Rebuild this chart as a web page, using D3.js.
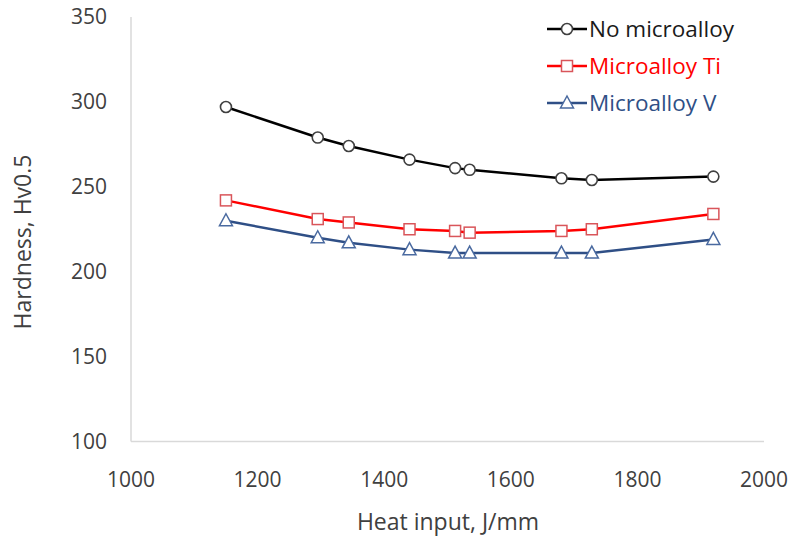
<!DOCTYPE html>
<html>
<head>
<meta charset="utf-8">
<script src="https://cdn.jsdelivr.net/npm/d3@7"></script>
<style>
  body { margin: 0; background: #fff; }
  text { font-family: "Open Sans", sans-serif; fill: #404040; }
</style>
</head>
<body>
<svg width="795" height="540"></svg>
<script>
  // heat input (J/mm)
  var heatInput = [1150, 1295, 1344, 1440, 1512, 1535, 1680, 1728, 1920];
  var noMicro = [297, 279, 274, 266, 261, 260, 255, 254, 256];
  var microTi = [242, 231, 229, 225, 224, 223, 224, 225, 234];
  var microV = [230, 220, 217, 213, 211, 211, 211, 211, 219];
  var xTicks = [1000, 1200, 1400, 1600, 1800, 2000];
  var yTicks = [100, 150, 200, 250, 300, 350];

  var series = [
    { name: "No microalloy", values: noMicro, line: "#000000", mark: "#404040", shape: "circle", text: "#1a1a1a" },
    { name: "Microalloy Ti", values: microTi, line: "#ff0000", mark: "#d9555a", shape: "square", text: "#ff0000" },
    { name: "Microalloy V", values: microV, line: "#2f4f86", mark: "#4a6aa0", shape: "triangle", text: "#2f4f86" }
  ];

  var svg = d3.select("svg");
  var x = d3.scaleLinear().domain([1000, 2000]).range([131, 764]);
  var y = d3.scaleLinear().domain([100, 350]).range([441.5, 17]);

  // axis lines
  svg.append("line").attr("x1", 131).attr("x2", 131).attr("y1", y(350)).attr("y2", y(100))
    .attr("stroke", "#d9d9d9").attr("stroke-width", 1.5);
  svg.append("line").attr("x1", 131).attr("x2", x(2000)).attr("y1", y(100)).attr("y2", y(100))
    .attr("stroke", "#d9d9d9").attr("stroke-width", 1.5);

  svg.selectAll(".ylab").data(yTicks).enter().append("text")
    .attr("x", 107).attr("y", function(d) { return y(d); })
    .attr("dy", "0.35em").attr("text-anchor", "end")
    .style("font-size", "21px").text(function(d) { return d; });

  svg.selectAll(".xlab").data(xTicks).enter().append("text")
    .attr("x", function(d) { return x(d); }).attr("y", 480)
    .attr("dy", "0.35em").attr("text-anchor", "middle")
    .style("font-size", "21px").text(function(d) { return d; });

  svg.append("text").attr("x", 448).attr("y", 522).attr("dy", "0.35em")
    .attr("text-anchor", "middle").style("font-size", "23px").text("Heat input, J/mm");

  svg.append("text").attr("transform", "translate(23,242) rotate(-90)").attr("dy", "0.35em")
    .attr("text-anchor", "middle").style("font-size", "23px").text("Hardness, Hv0.5");

  var line = d3.line()
    .x(function(d, i) { return x(heatInput[i]); })
    .y(function(d) { return y(d); });

  function marker(g, s, cx, cy) {
    if (s.shape == "circle") {
      g.append("circle").attr("cx", cx).attr("cy", cy).attr("r", 5.5)
        .attr("fill", "#fff").attr("stroke", s.mark).attr("stroke-width", 1.6);
    } else if (s.shape == "square") {
      g.append("rect").attr("x", cx - 5.5).attr("y", cy - 5.5).attr("width", 11).attr("height", 11)
        .attr("fill", "#fff").attr("stroke", s.mark).attr("stroke-width", 1.5);
    } else {
      g.append("path").attr("d", "M" + cx + "," + (cy - 7) + "L" + (cx + 6.5) + "," + (cy + 5) + "L" + (cx - 6.5) + "," + (cy + 5) + "Z")
        .attr("fill", "#fff").attr("stroke", s.mark).attr("stroke-width", 1.5);
    }
  }

  series.forEach(function(s) {
    var g = svg.append("g");
    g.append("path").attr("d", line(s.values)).attr("fill", "none")
      .attr("stroke", s.line).attr("stroke-width", 2.5);
    s.values.forEach(function(v, i) { marker(g, s, x(heatInput[i]), y(v)); });
  });

  // legend
  series.forEach(function(s, i) {
    var ly = 29 + i * 37;
    var g = svg.append("g");
    g.append("line").attr("x1", 547).attr("x2", 587).attr("y1", ly).attr("y2", ly)
      .attr("stroke", s.line).attr("stroke-width", 2.5);
    marker(g, s, 567, ly);
    g.append("text").attr("x", 589).attr("y", ly).attr("dy", "0.35em")
      .style("font-size", "22.5px").style("fill", s.text).text(s.name);
  });
</script>
</body>
</html>
